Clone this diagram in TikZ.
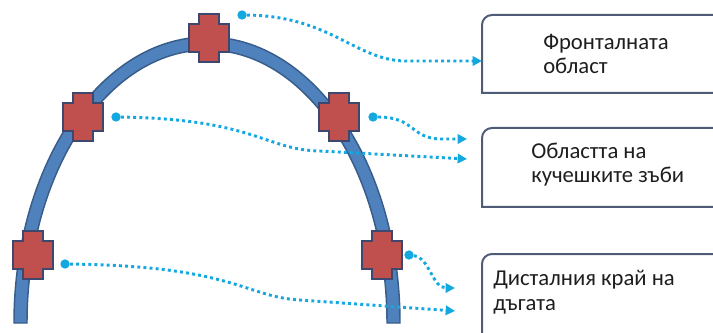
\documentclass[tikz,border=0pt]{standalone}
\usepackage{fontspec}
\setmainfont{Carlito}
\usepackage{tikz}
\usetikzlibrary{arrows.meta}
\definecolor{archblue}{RGB}{79,129,189}
\definecolor{archedge}{RGB}{56,93,138}
\definecolor{toothred}{RGB}{192,80,77}
\definecolor{toothedge}{RGB}{62,72,110}
\definecolor{boxedge}{RGB}{78,92,120}
\definecolor{linkblue}{RGB}{20,168,224}
\definecolor{labelgray}{RGB}{30,30,30}

\begin{document}
\begin{tikzpicture}[
    x=0.75pt, y=0.75pt,
    band/.style={fill=archblue,draw=archedge,line width=1.1pt},
    toothline/.style={fill=toothred,draw=toothedge,line width=1.4pt},
    tooth/.pic={\draw[toothline] (-10,24) -- (10,24) -- (10,14) -- (20,14) -- (20,-14) -- (10,-14) -- (10,-24) -- (-10,-24) -- (-10,-14) -- (-20,-14) -- (-20,14) -- (-10,14) -- cycle;},
    frame/.style={draw=boxedge,line width=1.5pt},
    label/.style={anchor=base west,inner sep=0pt,align=left,text=labelgray,font=\fontsize{17}{18.5}\selectfont},
    dot/.style={circle,fill=linkblue,inner sep=0pt,minimum size=7pt},
    link/.style={linkblue,line width=2.2pt,dash pattern=on 2.2pt off 2.4pt,-{Triangle[length=7pt,width=7pt]}}
    ]
    \useasboundingbox (0,0) rectangle (713,332);
    \clip (0,0) rectangle (713,332);
    \draw[band] (14,9) arc[start angle=180,end angle=0,x radius=193,y radius=286] -- (387,9) arc[start angle=0,end angle=180,x radius=180,y radius=273] -- cycle;
    \pic at (33,77) {tooth};
    \pic at (83,215) {tooth};
    \pic at (209,294) {tooth};
    \pic at (339,215) {tooth};
    \pic at (382,77) {tooth};
    \draw[frame] (730,239) -- (482,239) -- (482,307) arc[start angle=180,end angle=90,radius=10] -- (730,317);
    \draw[frame] (730,125) -- (482,125) -- (482,194) arc[start angle=180,end angle=90,radius=10] -- (730,204);
    \draw[frame] (482,-10) -- (482,68) arc[start angle=180,end angle=90,radius=10] -- (730,78);
    \node[label] (front) at (543,258) {Фронталната\\област};
    \node[label] (canine) at (531,149) {Областта на\\кучешките зъби};
    \node[label] (distal) at (493,22) {Дисталния край на\\дъгата};
    \node[dot] (s1) at (242,317) {};
    \node[dot] (s2) at (116,215) {};
    \node[dot] (s3) at (373,215) {};
    \node[dot] (s4) at (65,68) {};
    \node[dot] (s5) at (409,77) {};
    \coordinate (e1) at (482,271);
    \coordinate (e2) at (467,173);
    \coordinate (e3) at (467,193);
    \coordinate (e4) at (455,21);
    \coordinate (e5) at (455,44);
    \draw[link] (s1) .. controls (330,316) and (355,272) .. (405,271) -- (e1);
    \draw[link] (s2) .. controls (255,213) and (265,182) .. (320,181) -- (e2);
    \draw[link] (s3) .. controls (415,215) and (410,194) .. (440,193) -- (e3);
    \draw[link] (s4) .. controls (235,66) and (245,35) .. (300,32) -- (e4);
    \draw[link] (s5) .. controls (430,74) and (432,44) .. (e5);
\end{tikzpicture}
\end{document}
